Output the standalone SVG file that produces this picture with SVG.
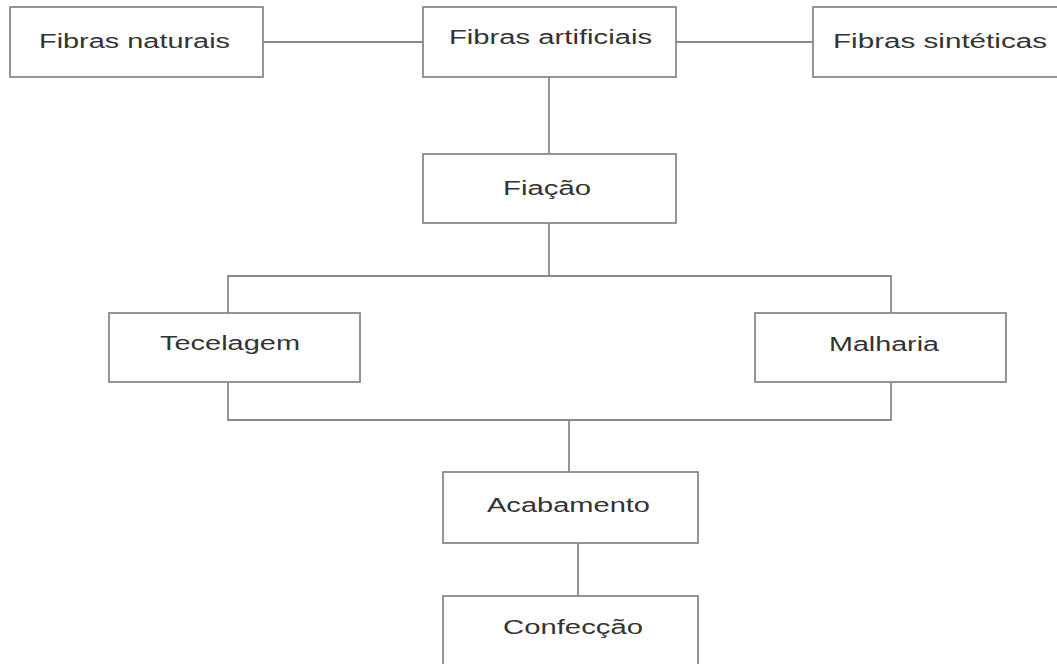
<svg xmlns="http://www.w3.org/2000/svg" width="1057" height="664" viewBox="0 0 1057 664">
<style>
.box{fill:#fff;stroke:#8a8a8a;stroke-width:1.8}
.con{fill:none;stroke:#8a8a8a;stroke-width:1.8}
.lbl{font-family:"Liberation Sans",Arial,sans-serif;font-size:20px;fill:#333;}
</style>
<rect width="1057" height="664" fill="#fff"/>
<g id="connectors">
<line class="con" x1="263" y1="42" x2="423" y2="42"/>
<line class="con" x1="676" y1="42" x2="813" y2="42"/>
<line class="con" x1="549" y1="77" x2="549" y2="154"/>
<polyline class="con" points="549,223 549,276"/>
<polyline class="con" points="228,313 228,276 891,276 891,313"/>
<polyline class="con" points="228,382 228,420 891,420 891,382"/>
<line class="con" x1="569" y1="420" x2="569" y2="472"/>
<line class="con" x1="578" y1="543" x2="578" y2="596"/>
</g>
<g id="n-naturais"><rect class="box" x="10" y="7" width="253" height="70"/><text class="lbl" x="39" y="48" textLength="191" lengthAdjust="spacingAndGlyphs">Fibras naturais</text></g>
<g id="n-artificiais"><rect class="box" x="423" y="7" width="253" height="70"/><text class="lbl" x="449" y="44" textLength="203" lengthAdjust="spacingAndGlyphs">Fibras artificiais</text></g>
<g id="n-sinteticas"><rect class="box" x="813" y="7" width="250" height="70"/><text class="lbl" x="833" y="48" textLength="214" lengthAdjust="spacingAndGlyphs">Fibras sintéticas</text></g>
<g id="n-fiacao"><rect class="box" x="423" y="154" width="253" height="69"/><text class="lbl" x="503" y="195" textLength="88" lengthAdjust="spacingAndGlyphs">Fiação</text></g>
<g id="n-tecelagem"><rect class="box" x="109" y="313" width="251" height="69"/><text class="lbl" x="160" y="350" textLength="140" lengthAdjust="spacingAndGlyphs">Tecelagem</text></g>
<g id="n-malharia"><rect class="box" x="755" y="313" width="251" height="69"/><text class="lbl" x="829" y="351" textLength="110" lengthAdjust="spacingAndGlyphs">Malharia</text></g>
<g id="n-acabamento"><rect class="box" x="443" y="472" width="255" height="71"/><text class="lbl" x="487" y="512" textLength="163" lengthAdjust="spacingAndGlyphs">Acabamento</text></g>
<g id="n-confeccao"><rect class="box" x="443" y="596" width="255" height="80"/><text class="lbl" x="503" y="634" textLength="140" lengthAdjust="spacingAndGlyphs">Confecção</text></g>
</svg>
